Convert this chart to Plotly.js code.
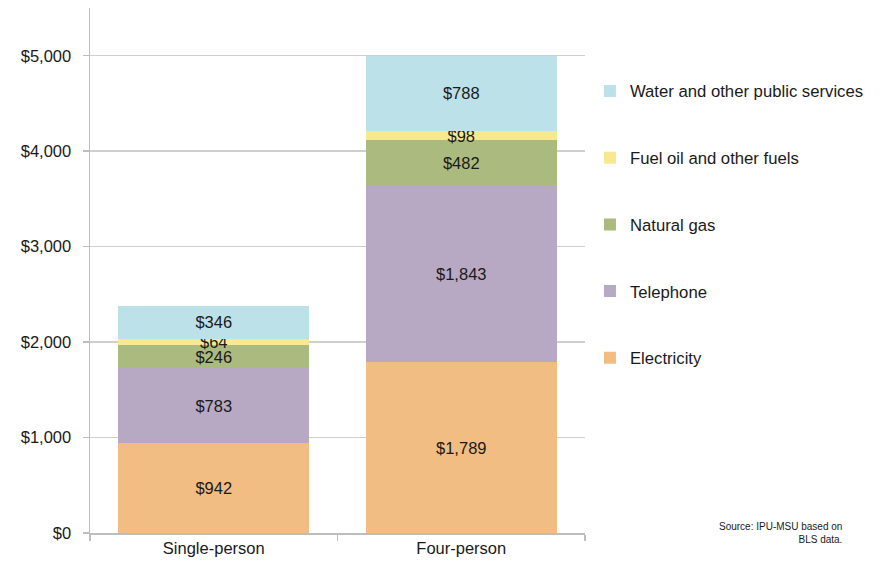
<!DOCTYPE html>
<html>
<head>
<meta charset="utf-8">
<script src="https://cdn.plot.ly/plotly-3.0.1.min.js"></script>
<style>html,body{margin:0;padding:0;background:#fff;}#chart{width:884px;height:572px;}</style>
</head>
<body>
<div id="chart"></div>
<script>
var categories = ["Single-person", "Four-person"];
var seriesNames = ["Electricity", "Telephone", "Natural gas", "Fuel oil and other fuels", "Water and other public services"];
var electricity = [942, 1789];
var telephone = [783, 1843];
var naturalGas = [246, 482];
var fuelOil = [64, 98];
var water = [346, 788];
var yTicks = [0, 1000, 2000, 3000, 4000, 5000];

var seriesValues = [electricity, telephone, naturalGas, fuelOil, water];
var colors = ["#F2BD82", "#B7A8C4", "#ABBA7E", "#F8E88F", "#BDE1E9"];

var fmt = function(v){ return "$" + v.toLocaleString("en-US"); };

var traces = seriesValues.map(function(vals, i){
  return {
    type: "bar",
    name: seriesNames[i],
    x: categories,
    y: vals,
    marker: {color: colors[i], line: {width: 0}},
    text: vals.map(fmt),
    textposition: "inside",
    insidetextanchor: "middle",
    constraintext: "none",
    textangle: 0,
    textfont: {family: "Liberation Sans, Arial, sans-serif", size: 16.5, color: "#1a1a1a"},
    legendgroup: "g" + i,
    legendrank: 1000 - i,
    hoverinfo: "skip"
  };
});

var layout = {
  width: 884, height: 572,
  margin: {l: 90, r: 299, t: 8, b: 39},
  barmode: "stack",
  bargap: 0.23,
  paper_bgcolor: "#fff", plot_bgcolor: "#fff",
  font: {family: "Liberation Sans, Arial, sans-serif", size: 16, color: "#1a1a1a"},
  showlegend: true,
  legend: {
    traceorder: "grouped",
    tracegroupgap: 42,
    x: 1.01, xanchor: "left",
    y: 0.875, yanchor: "top",
    font: {size: 16.7, color: "#1a1a1a"},
    bgcolor: "rgba(0,0,0,0)"
  },
  xaxis: {
    type: "category",
    showline: true, linecolor: "#bdbdbd", linewidth: 1.5,
    ticks: "outside", tickson: "boundaries", ticklen: 6, tickcolor: "#bdbdbd", tickwidth: 1.5,
    showgrid: false,
    tickfont: {size: 16.5, color: "#1a1a1a"}
  },
  yaxis: {
    range: [0, 5500],
    tickvals: yTicks,
    ticktext: yTicks.map(fmt),
    showline: true, linecolor: "#bdbdbd", linewidth: 1.5,
    ticks: "outside", ticklen: 6, tickcolor: "#bdbdbd", tickwidth: 1.5,
    showgrid: true, gridcolor: "#cfcfcf", gridwidth: 1.5,
    zeroline: false,
    ticklabelstandoff: 8,
    tickfont: {size: 16.5, color: "#1a1a1a"}
  },
  annotations: [{
    xref: "paper", yref: "paper",
    x: 1.523, y: 0.0, xanchor: "right", yanchor: "middle",
    text: "Source: IPU-MSU based on<br>BLS data.",
    align: "right", showarrow: false,
    font: {size: 10, color: "#1a1a1a"}
  }]
};

Plotly.newPlot("chart", traces, layout, {displayModeBar: false, staticPlot: true});
</script>
</body>
</html>
